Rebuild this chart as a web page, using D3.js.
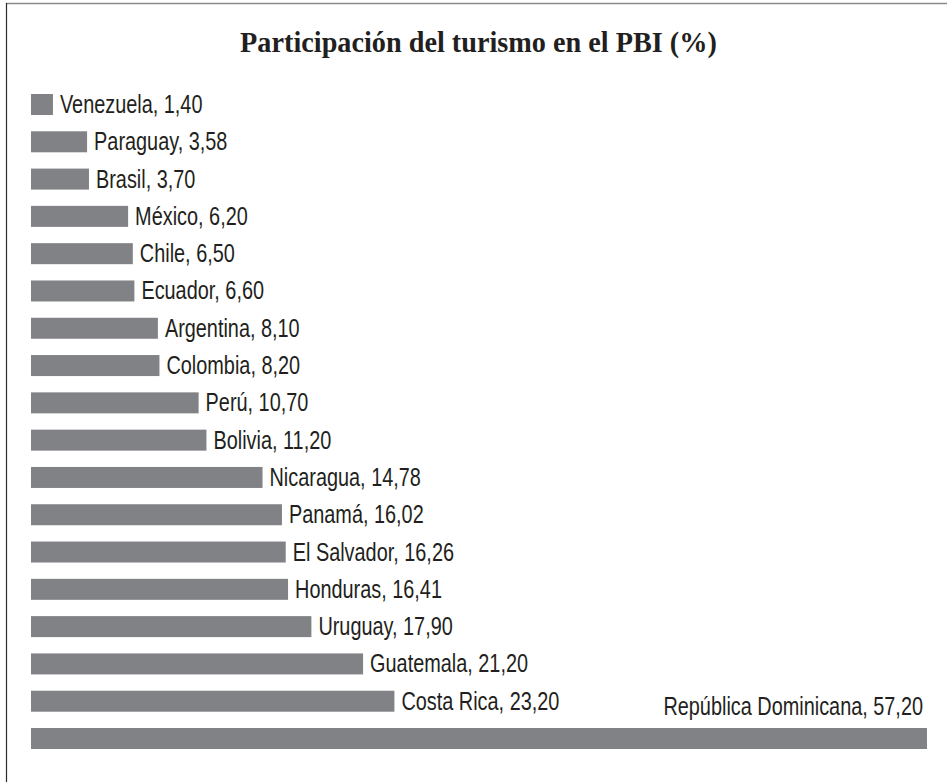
<!DOCTYPE html>
<html>
<head>
<meta charset="utf-8">
<script src="https://cdn.jsdelivr.net/npm/d3@7"></script>
<style>
  html, body { margin: 0; padding: 0; background: #ffffff; }
  svg { display: block; }
</style>
</head>
<body>
<svg id="chart" width="947" height="782"></svg>
<script>
const title = "Participación del turismo en el PBI (%)";
const countries = ["Venezuela", "Paraguay", "Brasil", "México", "Chile", "Ecuador", "Argentina", "Colombia", "Perú", "Bolivia", "Nicaragua", "Panamá", "El Salvador", "Honduras", "Uruguay", "Guatemala", "Costa Rica", "República Dominicana"];
const values = [1.40, 3.58, 3.70, 6.20, 6.50, 6.60, 8.10, 8.20, 10.70, 11.20, 14.78, 16.02, 16.26, 16.41, 17.90, 21.20, 23.20, 57.20];

const W = 947, H = 782;
const svg = d3.select("#chart");
svg.append("rect").attr("width", W).attr("height", H).attr("fill", "#ffffff");

// frame
svg.append("line").attr("x1", 6).attr("x2", W).attr("y1", 3.5).attr("y2", 3.5)
  .attr("stroke", "#8a8a8a").attr("stroke-width", 1.5);
svg.append("line").attr("x1", 6.5).attr("x2", 6.5).attr("y1", 3).attr("y2", H)
  .attr("stroke", "#2a2a2a").attr("stroke-width", 1.2);

// title (bold serif, slightly condensed to fit the reference width)
const t = svg.append("text")
  .attr("x", 0).attr("y", 0)
  .attr("text-anchor", "middle")
  .attr("font-family", "'Liberation Serif', 'Times New Roman', serif")
  .attr("font-weight", "bold")
  .attr("font-size", 30)
  .attr("fill", "#231f20")
  .text(title);
const tw = t.node().getComputedTextLength();
t.attr("transform", `translate(478.5,52) scale(${477 / tw},1)`);

const x = d3.scaleLinear().domain([0, 57.2]).range([31, 927]);
const y = d3.scaleBand().domain(countries).range([94, 749]).paddingInner(0.437).paddingOuter(0);

const fmt = v => d3.format(".2f")(v).replace(".", ",");

const g = svg.append("g");
const rows = g.selectAll("g.row").data(countries.map((c, i) => ({c, v: values[i]})))
  .join("g").attr("class", "row");

rows.append("rect")
  .attr("x", x(0))
  .attr("y", d => y(d.c))
  .attr("width", d => x(d.v) - x(0))
  .attr("height", y.bandwidth())
  .attr("fill", "#818286");

const labelFont = "'Liberation Sans', Arial, sans-serif";
const sx = 0.795;
rows.append("text")
  .attr("font-family", labelFont)
  .attr("font-size", 25)
  .attr("fill", "#231f20")
  .attr("x", 0).attr("y", 0)
  .each(function(d) {
    const el = d3.select(this);
    const label = d.c + ", " + fmt(d.v);
    el.text(label);
    const w = this.getComputedTextLength() * sx;
    const end = x(d.v);
    let tx, ty;
    if (end + 8 + w > W - 10) {
      el.attr("text-anchor", "end");
      tx = end - 4; ty = y(d.c) - 13;
    } else {
      el.attr("text-anchor", "start");
      tx = end + 7; ty = y(d.c) + y.bandwidth() / 2 + 8.5;
    }
    el.attr("transform", `translate(${tx},${ty}) scale(${sx},1)`);
  });
</script>
</body>
</html>
